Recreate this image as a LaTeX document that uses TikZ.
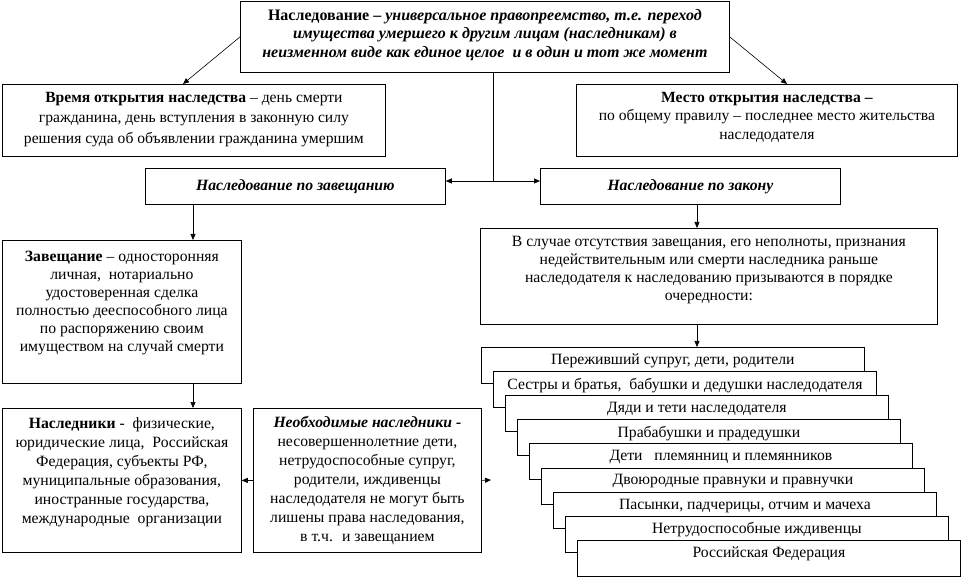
\documentclass[tikz,border=0pt]{standalone}
\usepackage{fontspec}
\setmainfont{Liberation Serif}
\usetikzlibrary{arrows.meta,calc}
\begin{document}
\begin{tikzpicture}[x=1pt,y=-1pt,
  box/.style={draw, line width=0.8pt, fill=white, inner sep=0pt, anchor=north west},
  txt/.style={align=center, inner sep=0pt, font=\fontsize{15.7}{18}\selectfont},
  txtb/.style={align=center, inner sep=0pt, font=\fontsize{15.7}{19}\selectfont},
  timetxt/.style={align=center, inner sep=0pt, font=\fontsize{15.6}{20.5}\selectfont},
  placetxt/.style={align=center, inner sep=0pt, font=\fontsize{15.6}{18.5}\selectfont},
  toptxt/.style={align=center, inner sep=0pt, font=\fontsize{16}{18.5}\selectfont},
  arr/.style={-{Triangle[length=6pt,width=5pt]}, line width=0.6pt},
  ln/.style={line width=0.6pt}]
\useasboundingbox (0,0) rectangle (962,580);
% boxes
\node[box, minimum width=489pt, minimum height=71pt] (top) at (240,1) {};
\node[box, minimum width=383pt, minimum height=72pt] (time) at (2,84) {};
\node[box, minimum width=381pt, minimum height=72pt] (place) at (576,84) {};
\node[box, minimum width=300pt, minimum height=36pt] (will) at (145,168) {};
\node[box, minimum width=300pt, minimum height=36pt] (law) at (540,168) {};
\node[box, minimum width=239pt, minimum height=143pt] (zav) at (2,240) {};
\node[box, minimum width=239pt, minimum height=144pt] (heirs) at (2,408) {};
\node[box, minimum width=228pt, minimum height=144pt] (nec) at (253,408) {};
\node[box, minimum width=457pt, minimum height=96pt] (case) at (480,228) {};
% texts
\node[toptxt] (toptext) at ($(top.center)+(0,-2)$) {{\bfseries Наследование – \itshape универсальное правопреемство, т.е. переход}\\ {\bfseries\itshape имущества умершего к другим лицам (наследникам) в}\\ {\bfseries\itshape неизменном виде как единое целое \ и в один и тот же момент}};
\node[timetxt] (timetext) at ($(time.center)+(0,-1)$) {{\bfseries Время открытия наследства} – день смерти\\ гражданина, день вступления в законную силу\\ решения суда об объявлении гражданина умершим};
\node[placetxt] (placetext) at ($(place.center)+(0,-3)$) {{\bfseries Место открытия наследства –}\\ по общему правилу – последнее место жительства\\ наследодателя};
\node[txt, font=\fontsize{15.7}{18}\selectfont\bfseries\itshape] (willtext) at (will.center) {Наследование по завещанию};
\node[txt, font=\fontsize{15.7}{18}\selectfont\bfseries\itshape] (lawtext) at (law.center) {Наследование по закону};
\node[txt, anchor=north] (zavtext) at ($(zav.north)+(0,11)$) {{\bfseries Завещание} – односторонняя\\ личная, \ нотариально\\ удостоверенная сделка\\ полностью дееспособного лица\\ по распоряжению своим\\ имуществом на случай смерти};
\node[txtb, anchor=north] (heirstext) at ($(heirs.north)+(0,9)$) {{\bfseries Наследники} - \ физические,\\ юридические лица, \ Российская\\ Федерация, субъекты РФ,\\ муниципальные образования,\\ иностранные государства,\\ международные \ организации};
\node[txtb] (nectext) at (nec.center) {{\bfseries\itshape Необходимые наследники -}\\ несовершеннолетние дети,\\ нетрудоспособные супруг,\\ родители, иждивенцы\\ наследодателя не могут быть\\ лишены права наследования,\\ в т.ч. \ и завещанием};
\node[txt] (casetext) at ($(case.center)+(0,-6)$) {В случае отсутствия завещания, его неполноты, признания\\ недействительным или смерти наследника раньше\\ наследодателя к наследованию призываются в порядке\\ очередности:};
% stacked boxes
\foreach \i/\t in {1/{Переживший супруг, дети, родители},
  2/{Сестры и братья, \ бабушки и дедушки наследодателя},
  3/{Дяди и тети наследодателя},
  4/{Прабабушки и прадедушки},
  5/{Дети \ \ племянниц и племянников},
  6/{Двоюродные правнуки и правнучки},
  7/{Пасынки, падчерицы, отчим и мачеха},
  8/{Нетрудоспособные иждивенцы},
  9/{Российская Федерация}}{
  \node[box, minimum width=383pt, minimum height=36pt] (s\i) at ({481+12*(\i-1)},{347+24.1*(\i-1)}) {};
  \node[txt] (st\i) at ($(s\i.north)+(0,14)$) {\t};
}
% connectors
\coordinate (jx) at (493,181);
\coordinate (lx) at (193,0);
\coordinate (rx) at (697,0);
\coordinate (timetip) at (183,84);
\coordinate (placetip) at (787,84);
\coordinate (nectip) at (491,480);
\draw[arr] (top.west) -- (timetip);
\draw[arr] (top.east) -- (placetip);
\draw[ln] (top.south -| jx) -- (jx);
\draw[arr] (jx) -- (jx -| will.east);
\draw[arr] (jx) -- (jx -| law.west);
\draw[arr] (will.south -| lx) -- (zav.north -| lx);
\draw[arr] (zav.south -| lx) -- (heirs.north -| lx);
\draw[arr] (law.south -| rx) -- (case.north -| rx);
\draw[arr] (case.south -| rx) -- (s1.north -| rx);
\draw[arr] (nec.west) -- (heirs.east);
\draw[arr] (nec.east) -- (nectip);
\end{tikzpicture}
\end{document}
